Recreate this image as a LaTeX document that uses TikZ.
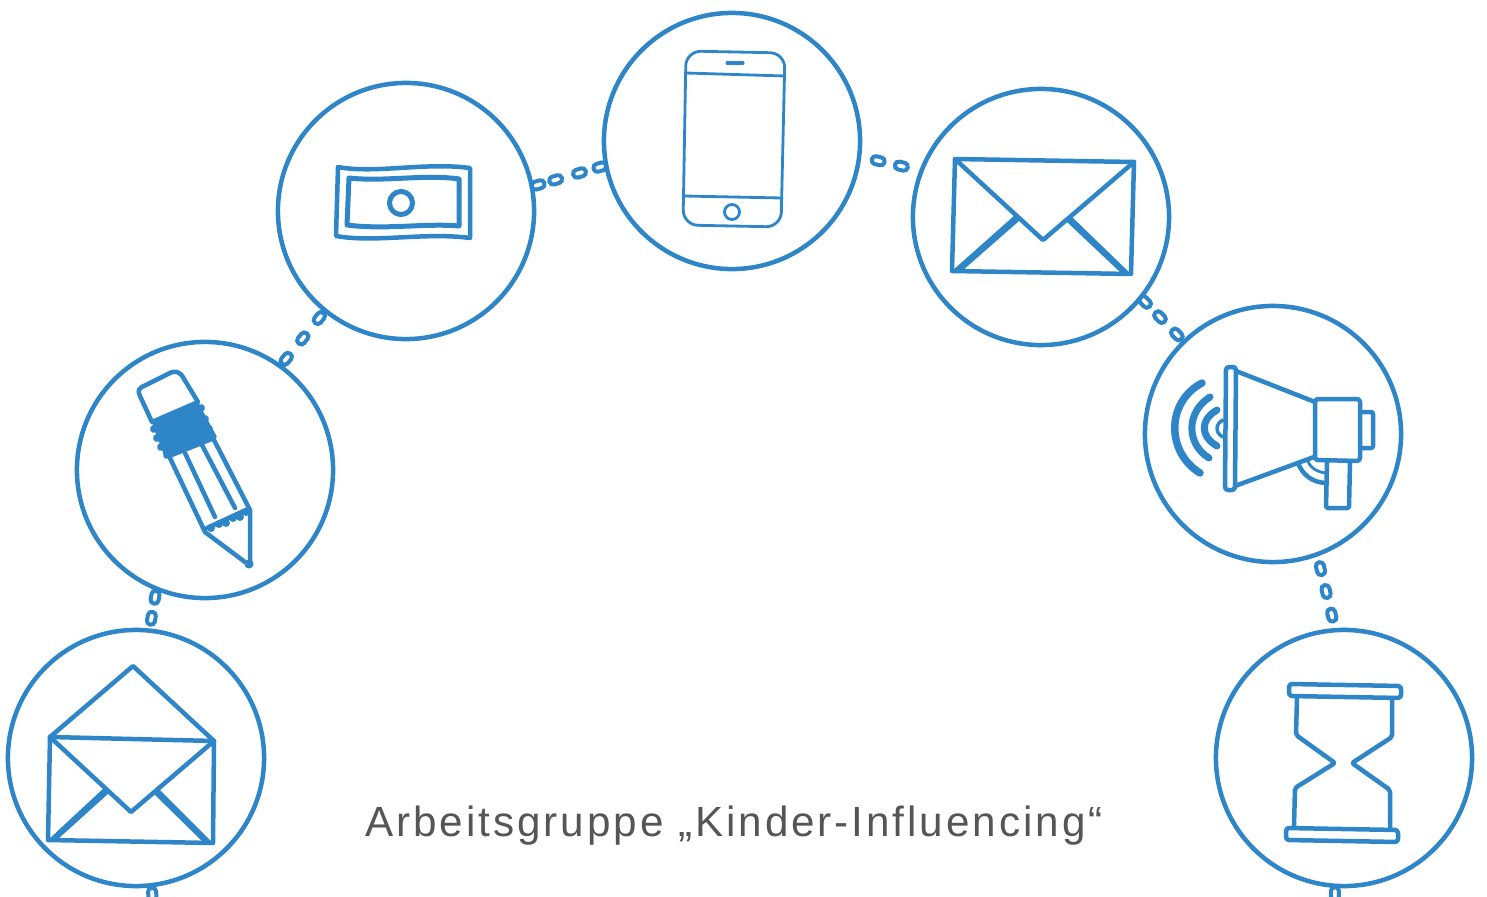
\documentclass[tikz,border=0pt]{standalone}
\usepackage{fontspec}
\newfontfamily\titlefont[LetterSpace=7]{Liberation Sans}
\usetikzlibrary{backgrounds,decorations.markings}
\definecolor{iconblue}{HTML}{2E86C9}
\definecolor{titlegray}{HTML}{555555}
\pgfkeys{/pgf/decoration/linkat/.style={mark=at position #1 with {\draw[iconblue,line width=0.04cm,rounded corners=0.038cm] (-6.5,-4) rectangle (6.5,4);}}}
\tikzset{
    ring/.style={circle,draw=iconblue,fill=white,line width=0.045cm,minimum size=2.56cm,inner sep=0pt},
    icon/.style={iconblue,line width=0.045cm,line join=round,line cap=round},
    thinicon/.style={iconblue,line width=0.028cm,line join=round,line cap=round},
    chain/.style={draw=none,postaction={decorate},decoration={markings,linkat/.list={#1}}}
}
\begin{document}
\begin{tikzpicture}[x=0.01cm,y=-0.01cm]
    \useasboundingbox (0,0) rectangle (1487,897);
    \node[ring] (openmail) at (136,758) {};
    \node[ring] (pencil) at (205,470) {};
    \node[ring] (money) at (406,211) {};
    \node[ring] (phone) at (732,141) {};
    \node[ring] (mail) at (1041,217) {};
    \node[ring] (horn) at (1273,434) {};
    \node[ring] (hourglass) at (1344,758) {};
    \coordinate (openend) at (153,907);
    \coordinate (hourend) at (1335,907);
    \begin{scope}[on background layer]
        \draw[chain={0.27,0.83}] (openmail.84) -- (pencil.248);
        \draw[chain={0.11,0.5,0.89}] (pencil.54) -- (money.231);
        \draw[chain={0.06,0.31,0.65,0.94}] (money.11) -- (phone.191);
        \draw[chain={0.29,0.69}] (phone.353) -- (mail.159);
        \draw[chain={0.07,0.44,0.86}] (mail.321) -- (horn.134);
        \draw[chain={0.17,0.49,0.82}] (horn.290) -- (hourglass.94);
        \draw[chain={0.35}] (openmail.277) -- (openend);
        \draw[chain={0.3}] (hourglass.266) -- (hourend);
    \end{scope}

    \draw[icon] (50,737) -- (133,666) -- (214,741);
    \draw[icon] (50,737) -- (214,741) -- (213,843) -- (48,840) -- cycle;
    \draw[icon] (50,737) -- (131,812) -- (214,741);
    \fill[iconblue] (48,840) -- (105,787) -- (109,793) -- (58,839) -- cycle;
    \fill[iconblue] (213,843) -- (157,787) -- (153,793) -- (203,842) -- cycle;

    \draw[icon] (140,396) -- (152,422) -- (198,402) -- (184,379)
        .. controls (180,371) and (175,370) .. (168,374) -- (146,385)
        .. controls (139,388) and (137,390) .. (140,396) -- cycle;
    \fill[iconblue] (152,422) -- (198,402) -- (217,437) -- (165,458) -- cycle;
    \draw[icon,line width=0.08cm] (154,429) -- (201,408);
    \draw[icon,line width=0.08cm] (157,438) -- (205,419);
    \draw[icon,line width=0.08cm] (161,447) -- (209,429);
    \draw[icon,line width=0.08cm] (167,455) -- (212,437);
    \draw[icon] (170,458) -- (205,532) -- (245,562);
    \draw[icon] (213,438) -- (250,510) -- (250,565);
    \draw[icon] (185,453) -- (215,517);
    \draw[icon] (202,445) -- (235,508);
    \foreach \dotx/\doty in {211/528,219/524,226/523,233/518,240/517,246/512}
        \fill[iconblue] (\dotx,\doty) circle (0.04cm);
    \draw[icon] (207,528) -- (248,509);
    \draw[thinicon,line width=0.03cm] (249,564) circle (0.03cm);

    \draw[icon] (338,167) .. controls (375,174) and (425,162) .. (470,168)
        -- (470,238) .. controls (425,232) and (375,243) .. (336,236) -- cycle;
    \draw[icon,line width=0.05cm] (349,178) .. controls (385,182) and (425,174) .. (459,179)
        -- (459,226) .. controls (425,223) and (385,230) .. (347,225) -- cycle;
    \draw[icon,line width=0.05cm] (401,203) circle (0.115cm);

    \draw[thinicon,rounded corners=0.15cm] (686,51) -- (785,53) -- (781,227) -- (683,225) -- cycle;
    \draw[thinicon] (686,73) -- (785,76);
    \draw[thinicon] (684,196) -- (782,198);
    \draw[thinicon,line width=0.03cm] (727,63) -- (743,63);
    \draw[thinicon] (732,212) circle (0.075cm);

    \draw[icon] (955,159) -- (1134,162) -- (1131,274) -- (952,271) -- cycle;
    \draw[icon] (955,159) -- (1043,240) -- (1134,162);
    \fill[iconblue] (952,271) -- (1015,215) -- (1019,221) -- (962,271) -- cycle;
    \fill[iconblue] (1131,274) -- (1071,216) -- (1067,222) -- (1121,273) -- cycle;

    \draw[icon,rounded corners=0.03cm] (1226,367) -- (1236,367) -- (1235,490) -- (1225,490) -- cycle;
    \draw[icon] (1236,371) -- (1315,402);
    \draw[icon] (1235,486) -- (1314,457);
    \draw[icon,rounded corners=0.03cm] (1315,399) -- (1360,399) -- (1360,461) -- (1315,460) -- cycle;
    \draw[icon,rounded corners=0.02cm] (1361,412) -- (1373,412) -- (1373,448) -- (1361,448);
    \draw[icon,rounded corners=0.02cm] (1327,462) -- (1326,508) -- (1349,508) -- (1350,462);
    \draw[icon] (1298,463) .. controls (1303,476) and (1313,482) .. (1325,483);
    \draw[thinicon] (1307,460) .. controls (1310,467) and (1316,472) .. (1326,473);
    \draw[icon,line width=0.075cm] (1202,383) .. controls (1166,402) and (1166,452) .. (1200,473);
    \draw[icon,line width=0.07cm] (1210,397) .. controls (1186,412) and (1186,444) .. (1209,458);
    \draw[icon,line width=0.07cm] (1217,410) .. controls (1200,420) and (1200,436) .. (1217,446);
    \draw[thinicon,line width=0.035cm] (1223,420) .. controls (1215,424) and (1215,433) .. (1223,437);

    \draw[icon,rounded corners=0.03cm] (1289,684) -- (1401,686) -- (1401,698) -- (1289,696) -- cycle;
    \draw[icon,rounded corners=0.03cm] (1286,828) -- (1398,830) -- (1398,842) -- (1286,840) -- cycle;
    \draw[icon,rounded corners=0.02cm] (1297,697) -- (1296,735) -- (1335,763) -- (1295,788) -- (1294,827);
    \draw[icon,rounded corners=0.02cm] (1392,698) -- (1392,737) -- (1352,763) -- (1390,790) -- (1390,828);

    \node[titlegray,font=\titlefont\fontsize{12}{14}\selectfont,inner sep=0pt] (title) at (734,826) {Arbeitsgruppe „Kinder-Influencing“};
\end{tikzpicture}
\end{document}
